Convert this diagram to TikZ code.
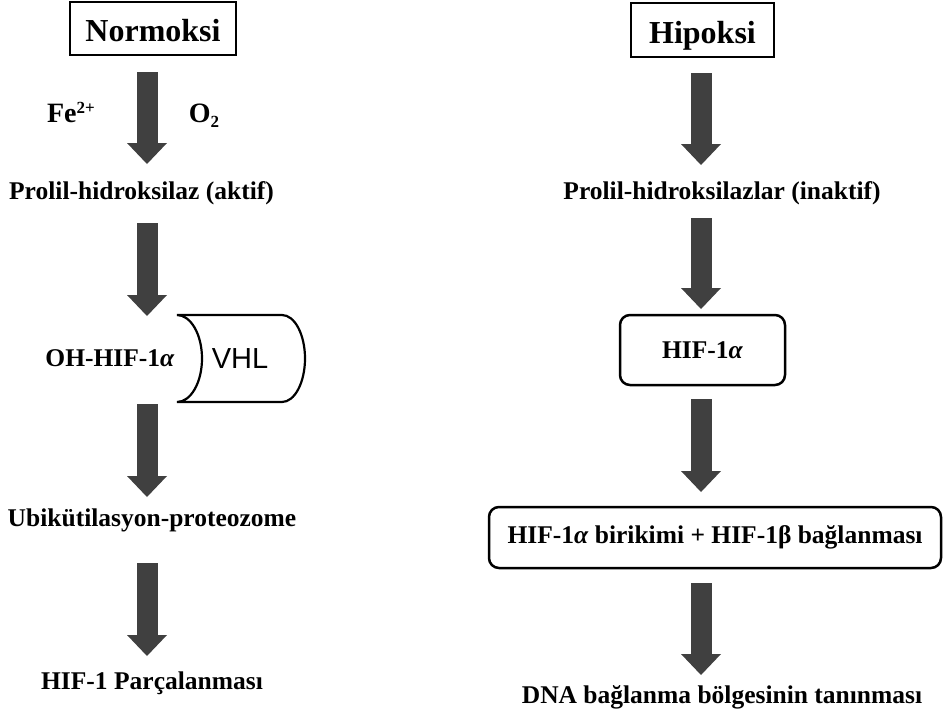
\documentclass[tikz,border=0pt]{standalone}
\usepackage{fontspec}
\setmainfont{Liberation Serif}
\newfontfamily\vhlfont{Liberation Sans}
\usetikzlibrary{arrows.meta}
\definecolor{arrowgray}{RGB}{64,64,64}
\begin{document}
\begin{tikzpicture}[x=1pt,y=-1pt,
  lbl/.style={font=\bfseries\fontsize{25.5}{28}\selectfont, inner sep=0pt, outer sep=0pt, text height=18pt, text depth=6pt},
  cofactor/.style={font=\bfseries\fontsize{28}{30}\selectfont, inner sep=0pt, outer sep=0pt, text height=22pt, text depth=8pt},
  titlebox/.style={draw, line width=2.5pt, font=\bfseries\fontsize{32}{36}\selectfont, inner sep=0pt, outer sep=0pt, text height=26pt, text depth=0pt},
  roundbox/.style={lbl, draw, line width=2.5pt, rounded corners=10pt},
  vhlshape/.style={draw, line width=2.2pt},
  bigarrow/.style={draw=arrowgray, line width=21pt, -{Triangle[width=40pt 0 0,length=21pt 0 0,line width=0pt 0 0]}}]
\useasboundingbox (0,0) rectangle (947,720);
\fill[white] (0,0) rectangle (947,720);
\coordinate (colL) at (147,0);
\coordinate (colR) at (701,0);
% left column
\node[titlebox, minimum width=166pt, minimum height=53pt] (norm) at (153,28.5) {Normoksi};
\node[cofactor] (fe) at (71,115) {Fe\raisebox{9pt}{\fontsize{17}{17}\selectfont 2+}};
\node[cofactor] (o2) at (204,115) {O\raisebox{-5pt}{\fontsize{17}{17}\selectfont 2}};
\node[lbl] (prolL) at (141.5,193) {Prolil-hidroksilaz (aktif)};
\node[lbl] (ohhif) at (110,360) {OH-HIF-1\textit{α}};
\draw[vhlshape] (177,315) -- (282,315)
  .. controls (294.7,315) and (305,334.5) .. (305,358.5)
  .. controls (305,382.5) and (294.7,402) .. (282,402)
  -- (177,402)
  .. controls (190.8,402) and (202,382.5) .. (202,358.5)
  .. controls (202,334.5) and (190.8,315) .. cycle;
\node[font=\vhlfont\fontsize{29}{32}\selectfont, inner sep=0pt] (vhl) at (240,359) {VHL};
\node[lbl] (ubi) at (152,520) {Ubikütilasyon-proteozome};
\node[lbl] (parc) at (152,683) {HIF-1 Parçalanması};
\draw[bigarrow, shorten <=17pt, shorten >=17pt] (norm.south -| colL) -- (prolL.north -| colL);
\draw[bigarrow, shorten <=18pt, shorten >=32pt] (prolL.south -| colL) -- (ohhif.north -| colL);
\draw[bigarrow, shorten <=32pt, shorten >=11pt] (ohhif.south -| colL) -- (ubi.north -| colL);
\draw[bigarrow, shorten <=31pt, shorten >=15pt] (ubi.south -| colL) -- (parc.north -| colL);
% right column
\node[titlebox, minimum width=143pt, minimum height=54pt] (hip) at (702.5,30) {Hipoksi};
\node[lbl] (prolR) at (722,193) {Prolil-hidroksilazlar (inaktif)};
\node[roundbox, minimum width=165pt, minimum height=70pt, text height=20pt, text depth=4pt] (hif) at (702.5,350) {HIF-1\textit{α}};
\node[roundbox, minimum width=452pt, minimum height=61pt] (big) at (715,537.5) {HIF-1\textit{α} birikimi + HIF-1β bağlanması};
\node[lbl] (dna) at (722,697) {DNA bağlanma bölgesinin tanınması};
\draw[bigarrow, shorten <=16pt, shorten >=16pt] (hip.south -| colR) -- (prolR.north -| colR);
\draw[bigarrow, shorten <=13pt, shorten >=6pt] (prolR.south -| colR) -- (hif.north -| colR);
\draw[bigarrow, shorten <=14pt, shorten >=15pt] (hif.south -| colR) -- (big.north -| colR);
\draw[bigarrow, shorten <=15pt, shorten >=10pt] (big.south -| colR) -- (dna.north -| colR);
\end{tikzpicture}
\end{document}
